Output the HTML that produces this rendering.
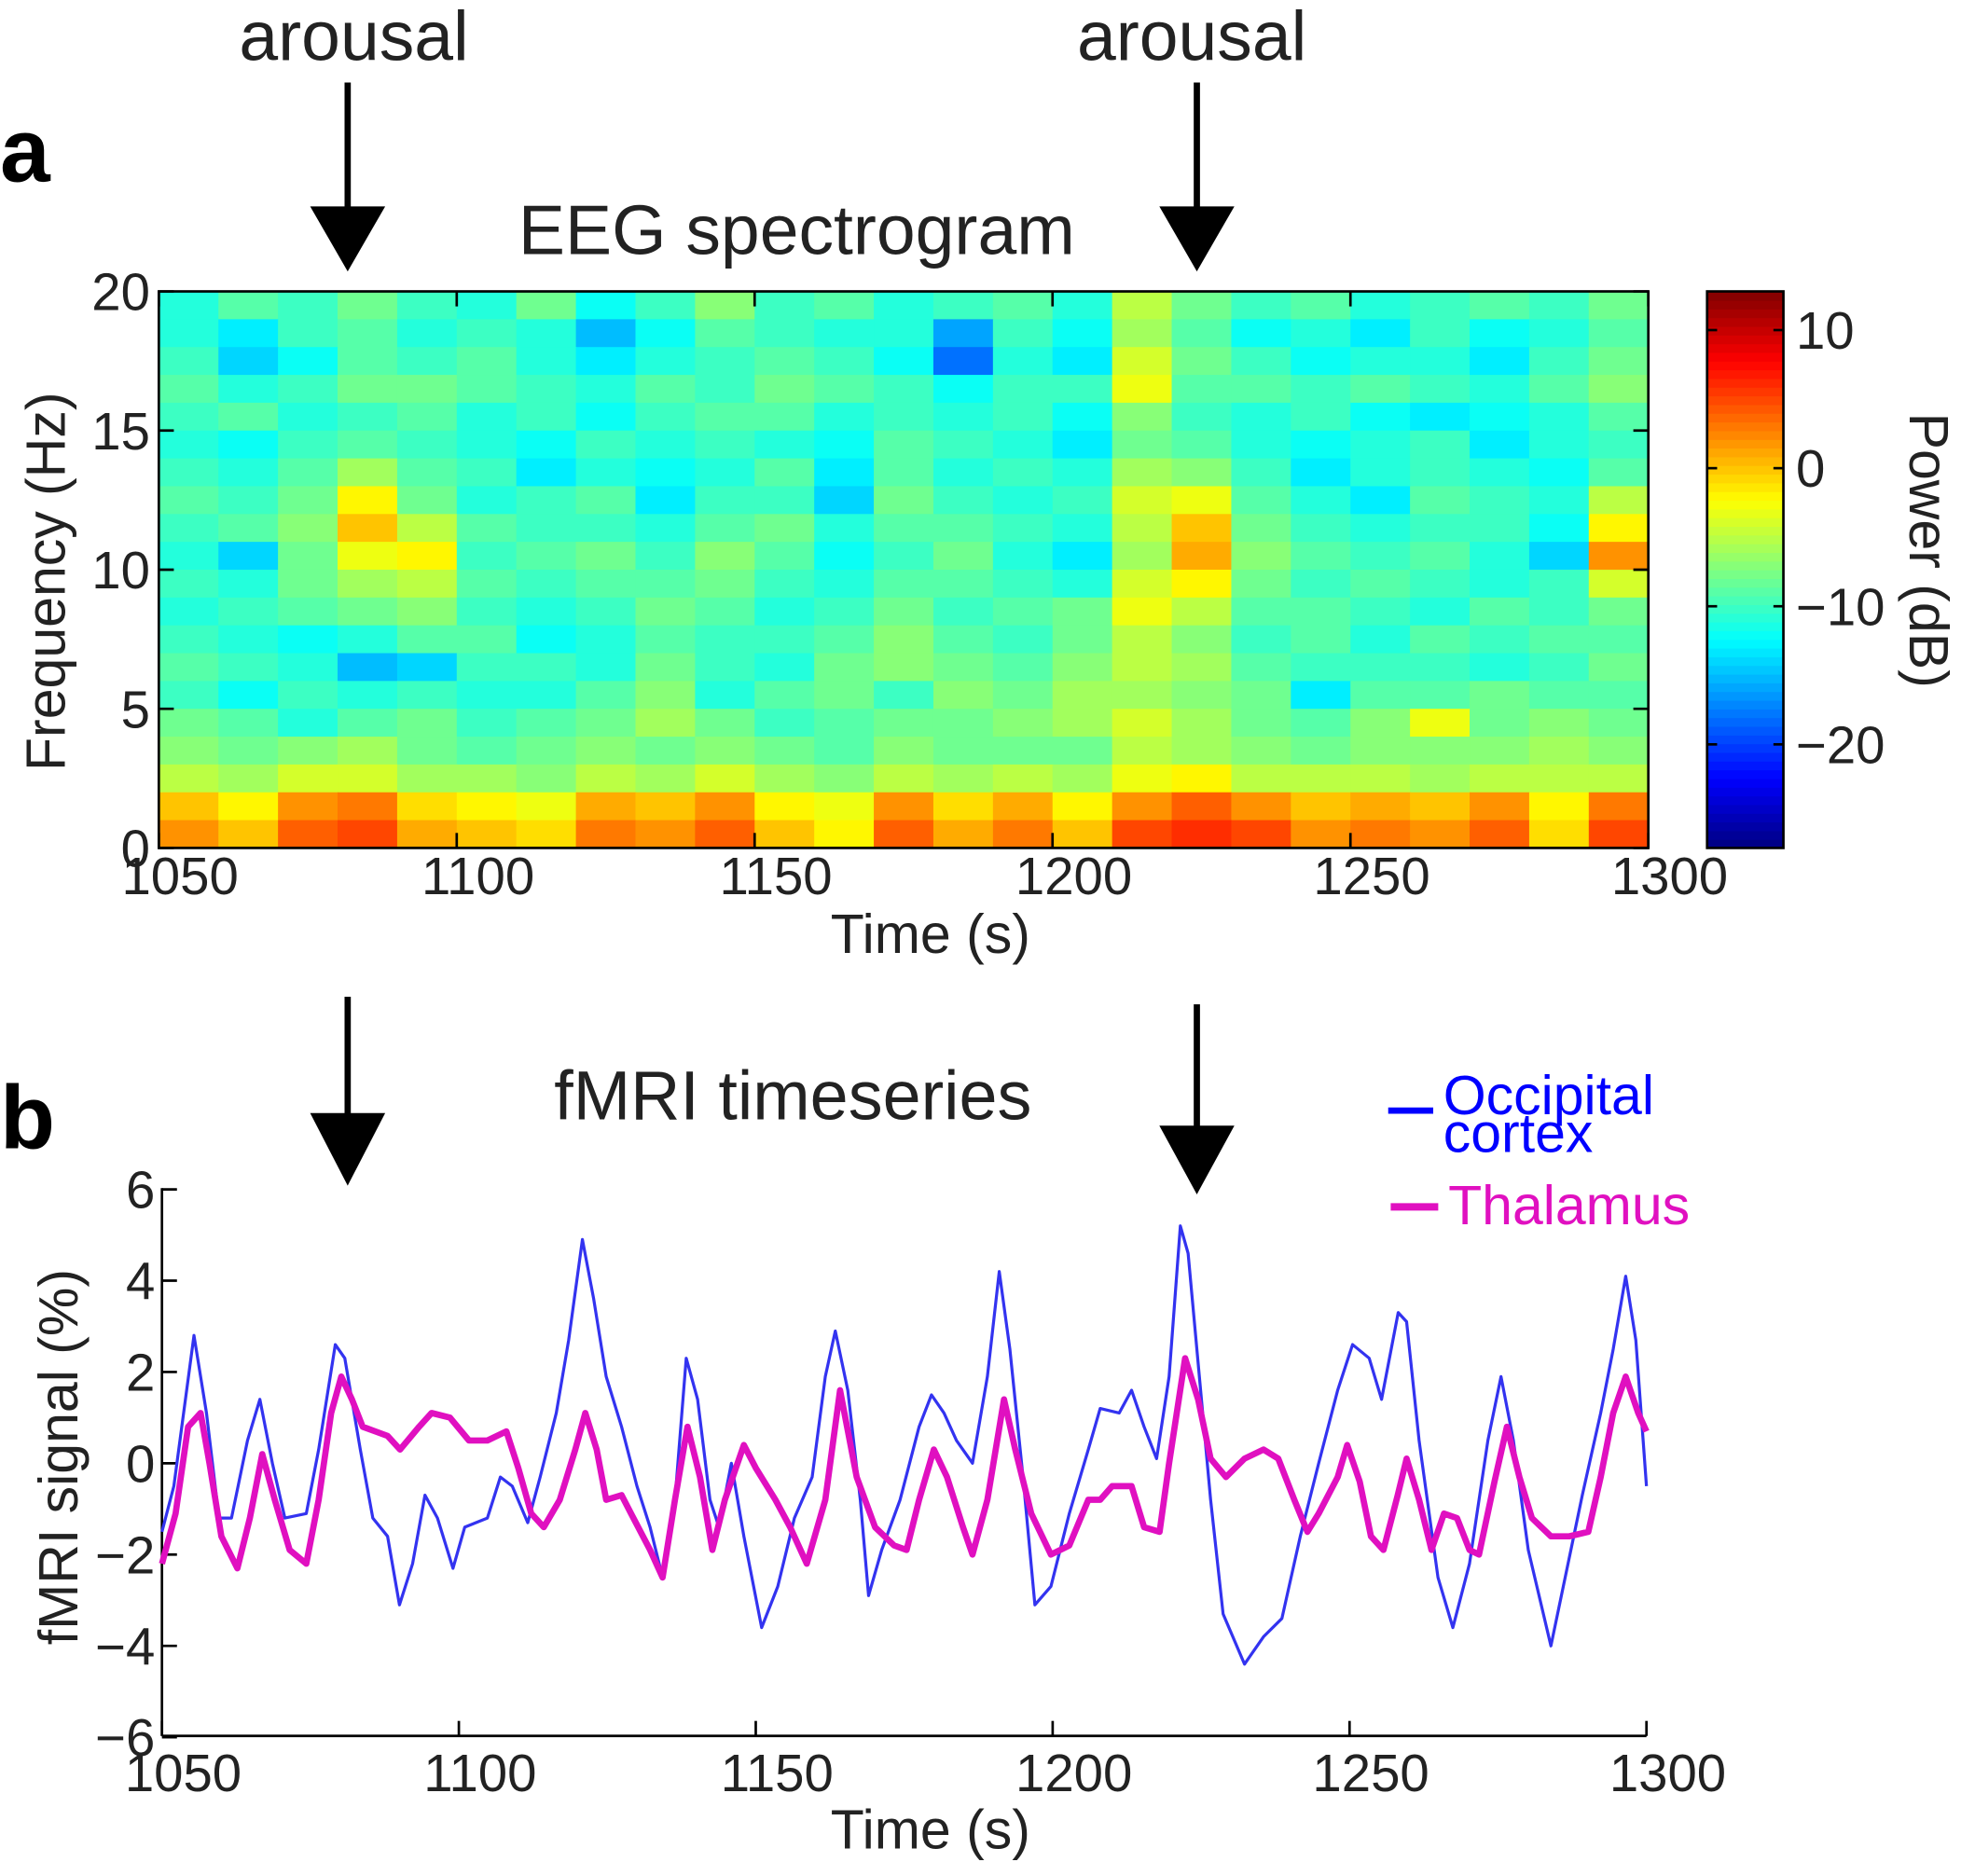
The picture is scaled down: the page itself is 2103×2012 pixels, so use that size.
<!DOCTYPE html>
<html><head><meta charset="utf-8"><style>
html,body{margin:0;padding:0;background:#fff;}
svg{display:block;font-family:"Liberation Sans",Arial,sans-serif;}
</style></head><body>
<svg id="fig" xmlns="http://www.w3.org/2000/svg" width="2103" height="2012" viewBox="0 0 1568 1500" preserveAspectRatio="none">
<g id="panelA"></g>
<g id="panelB"></g>
</svg>
<script>
// ---------- Spectrogram data (dB), rows top (19-20 Hz) to bottom (0-1 Hz), columns 10 s bins from 1050 ----------
const specTimeStart = 1050, specTimeStep = 10, specFreqMax = 20;
const specMidOffset = 1;
const specRows = [
[-12,-10,-11,-9,-11,-12,-9,-13,-11,-8,-11,-10,-12,-11,-10,-12,-6,-9,-11,-10,-12,-11,-10,-11,-9],
[-12,-14,-11,-10,-12,-11,-12,-16,-13,-10,-11,-12,-12,-17,-11,-13,-7,-10,-13,-12,-14,-11,-13,-12,-10],
[-11,-15,-13,-10,-11,-10,-12,-14,-12,-11,-10,-11,-13,-19,-12,-14,-5,-9,-11,-13,-12,-12,-14,-11,-9],
[-10,-12,-11,-9,-9,-10,-11,-12,-10,-11,-9,-10,-11,-13,-11,-11,-4,-10,-10,-11,-10,-11,-12,-10,-8],
[-11,-10,-12,-11,-10,-12,-11,-13,-11,-10,-10,-12,-11,-12,-11,-13,-8,-11,-12,-11,-13,-14,-13,-12,-10],
[-12,-13,-11,-10,-11,-12,-13,-11,-12,-11,-12,-13,-10,-11,-12,-14,-9,-10,-12,-13,-12,-11,-14,-12,-11],
[-11,-12,-10,-7,-10,-11,-14,-12,-13,-12,-10,-14,-10,-12,-11,-12,-7,-8,-11,-14,-12,-11,-12,-13,-10],
[-10,-11,-9,-3,-9,-12,-11,-10,-14,-11,-11,-15,-9,-11,-12,-11,-5,-4,-10,-12,-14,-10,-11,-12,-6],
[-11,-10,-8,-1,-6,-10,-11,-11,-12,-10,-9,-12,-10,-10,-11,-12,-6,-1,-9,-11,-12,-11,-11,-13,-3],
[-12,-15,-9,-4,-3,-11,-10,-9,-11,-8,-10,-13,-11,-9,-12,-14,-7,0,-8,-10,-11,-10,-12,-15,1],
[-11,-12,-9,-7,-6,-10,-11,-10,-10,-9,-11,-12,-10,-10,-11,-12,-5,-3,-9,-11,-10,-11,-12,-11,-5],
[-12,-11,-10,-9,-8,-11,-12,-11,-9,-10,-12,-11,-9,-11,-10,-9,-4,-6,-10,-10,-11,-12,-10,-11,-9],
[-11,-12,-13,-12,-10,-10,-13,-12,-10,-11,-11,-10,-8,-10,-11,-9,-6,-8,-11,-10,-12,-10,-11,-10,-10],
[-10,-11,-12,-16,-15,-11,-11,-12,-9,-11,-12,-9,-8,-9,-10,-8,-6,-7,-10,-11,-11,-11,-12,-11,-9],
[-11,-13,-11,-12,-11,-12,-12,-10,-8,-12,-10,-9,-11,-8,-9,-7,-7,-8,-9,-14,-10,-10,-9,-10,-10],
[-9,-10,-12,-10,-9,-11,-10,-9,-7,-9,-11,-10,-9,-9,-8,-7,-5,-7,-9,-10,-8,-4,-9,-8,-9],
[-7,-8,-7,-6,-8,-9,-8,-7,-8,-7,-8,-9,-7,-8,-8,-8,-5,-6,-7,-8,-7,-7,-7,-6,-7],
[-5,-6,-4,-4,-6,-6,-7,-5,-6,-4,-6,-7,-5,-6,-5,-6,-3,-2,-5,-5,-5,-6,-5,-5,-5],
[0,-2,2,3,-1,-2,-3,1,0,2,-2,-3,2,-1,1,-2,2,4,2,0,1,0,2,-2,3],
[2,0,4,5,1,0,-1,3,2,4,0,-2,4,1,3,0,5,6,5,2,3,2,4,-1,5]
];
const specXTicks = [1050,1100,1150,1200,1250,1300];
const specYTicks = [0,5,10,15,20];
const cbarTicks = [-20,-10,0,10];
const cbarMin = -27.5, cbarMax = 12.8;

// ---------- fMRI data ----------
const occTimes = [1050,1052,1055.4,1057.5,1059.6,1061.7,1064.4,1066.5,1068.6,1070.7,1074.3,1076.4,1079.2,1080.8,1083.4,1085.5,1088,1090,1092.2,1094.3,1096.4,1099,1101,1104.8,1107,1109,1111.6,1113.7,1116.4,1118.5,1120.8,1122.7,1124.8,1127.4,1130,1132.2,1134.3,1136.4,1138.3,1140.2,1142.3,1143.8,1145.9,1148,1151,1153.7,1156.5,1159.5,1161.7,1163.4,1165.5,1167.6,1169,1171.2,1174.3,1177.5,1179.6,1181.7,1183.8,1186.5,1189,1191,1192.8,1195,1197,1199.7,1202.8,1206,1208,1211.2,1213.3,1215.4,1217.5,1219.6,1221.5,1222.8,1224.5,1226.6,1228.7,1232.3,1235.5,1238.6,1241.7,1244.8,1248,1250.5,1253.3,1255.4,1258.2,1259.6,1261.7,1264.9,1267.4,1270.2,1273.3,1275.5,1277.6,1280.1,1283.9,1286,1289.2,1292.3,1294.4,1296.5,1298.2,1300];
const occValues = [-1.5,-0.5,2.8,1.1,-1.2,-1.2,0.5,1.4,0,-1.2,-1.1,0.3,2.6,2.3,0.3,-1.2,-1.6,-3.1,-2.2,-0.7,-1.2,-2.3,-1.4,-1.2,-0.3,-0.5,-1.3,-0.3,1.1,2.7,4.9,3.6,1.9,0.8,-0.5,-1.4,-2.5,-0.8,2.3,1.4,-0.8,-1.4,0,-1.6,-3.6,-2.7,-1.2,-0.3,1.9,2.9,1.6,-0.8,-2.9,-1.9,-0.8,0.8,1.5,1.1,0.5,0,1.9,4.2,2.5,-0.3,-3.1,-2.7,-1.1,0.3,1.2,1.1,1.6,0.8,0.1,1.9,5.2,4.6,2.2,-0.8,-3.3,-4.4,-3.8,-3.4,-1.6,0,1.6,2.6,2.3,1.4,3.3,3.1,0.5,-2.5,-3.6,-2.2,0.5,1.9,0.5,-1.9,-4.0,-2.7,-0.7,1.1,2.5,4.1,2.7,-0.5];
const thalTimes = [1050,1052.3,1054.4,1056.5,1058,1060,1062.7,1064.8,1066.9,1069,1071.5,1074.3,1076.4,1078.5,1080.2,1082,1083.8,1085.9,1088,1090.1,1093.3,1095.4,1098.5,1101.7,1104.8,1108,1110,1112.2,1114.3,1117,1119.6,1121.3,1123.2,1124.8,1127.4,1129,1132.2,1134.3,1136.4,1138.5,1140.6,1142.7,1144.8,1148,1150,1153.3,1155.8,1158.6,1161.7,1164.2,1167,1170.1,1173.3,1175.4,1177.5,1180,1182.2,1184.9,1186.5,1189,1191.8,1193.7,1196.4,1199.7,1202.8,1206,1208,1210,1213.3,1215.4,1218,1219.6,1222.3,1224.5,1226.6,1229.2,1232.3,1235.5,1238,1240.7,1242.9,1244.8,1248,1249.6,1251.7,1253.6,1255.7,1258.1,1259.6,1261.7,1263.8,1265.9,1268.1,1270.2,1271.8,1274.4,1276.5,1278.6,1280.7,1283.9,1287,1290.2,1292.3,1294.4,1296.5,1298.6,1300];
const thalValues = [-2.2,-1.1,0.8,1.1,0,-1.6,-2.3,-1.2,0.2,-0.8,-1.9,-2.2,-0.8,1.1,1.9,1.4,0.8,0.7,0.6,0.3,0.8,1.1,1.0,0.5,0.5,0.7,-0.1,-1.1,-1.4,-0.8,0.3,1.1,0.3,-0.8,-0.7,-1.1,-1.9,-2.5,-0.8,0.8,-0.3,-1.9,-0.8,0.4,-0.1,-0.8,-1.4,-2.2,-0.8,1.6,-0.3,-1.4,-1.8,-1.9,-0.8,0.3,-0.3,-1.4,-2.0,-0.8,1.4,0.3,-1.1,-2.0,-1.8,-0.8,-0.8,-0.5,-0.5,-1.4,-1.5,0,2.3,1.4,0.1,-0.3,0.1,0.3,0.1,-0.8,-1.5,-1.1,-0.3,0.4,-0.4,-1.6,-1.9,-0.7,0.1,-0.8,-1.9,-1.1,-1.2,-1.9,-2.0,-0.4,0.8,-0.3,-1.2,-1.6,-1.6,-1.5,-0.3,1.1,1.9,1.1,0.7];
const fmriXTicks = [1050,1100,1150,1200,1250,1300];
const fmriYTicks = [-6,-4,-2,0,2,4,6];

const NS = "http://www.w3.org/2000/svg";
function mk(tag, attrs, parent, text){
  const e = document.createElementNS(NS, tag);
  for (const k in attrs) e.setAttribute(k, attrs[k]);
  if (text !== undefined) e.textContent = text;
  parent.appendChild(e);
  return e;
}
function jet(v){
  let t = (v - cbarMin)/(cbarMax - cbarMin); t = Math.max(0, Math.min(1, t));
  const f = x => Math.max(0, Math.min(1, x));
  const r = f(1.5 - Math.abs(4*t - 3)), g = f(1.5 - Math.abs(4*t - 2)), b = f(1.5 - Math.abs(4*t - 1));
  return `rgb(${Math.round(r*255)},${Math.round(g*255)},${Math.round(b*255)})`;
}
const fig = document.getElementById('fig');
const A = document.getElementById('panelA');
const B = document.getElementById('panelB');

function arrow(parent, x, y0, y1, y2, name){
  const g = mk('g', {}, parent);
  
  
  mk('line', {x1:x, y1:y0, x2:x, y2:y1+2, stroke:'#000', 'stroke-width':5}, g);
  mk('polygon', {points:`${x-30},${y1} ${x+30},${y1} ${x},${y2}`, fill:'#000'}, g);
}

// ---------- Panel A ----------
const ax = {l:127, r:1318, t:233, b:678};
const sx = t => ax.l + (t - 1050)/(250)*(ax.r - ax.l);
const sy = f => ax.b - f/specFreqMax*(ax.b - ax.t);
let lab = mk('text', {x:0, y:145, 'font-size':72, 'font-weight':'bold'}, A, 'a');
 
[[283,'arousal-label-1'],[953,'arousal-label-2']].forEach(([x,n])=>{
  const e = mk('text', {x:x, y:48, 'font-size':56, 'text-anchor':'middle', fill:'#222'}, A, 'arousal');
   
});
arrow(A, 278, 66, 165, 217, 'arousal-arrow-a1');
arrow(A, 957, 66, 165, 217, 'arousal-arrow-a2');
let tt = mk('text', {x:637, y:203, 'font-size':56, 'text-anchor':'middle', fill:'#222'}, A, 'EEG spectrogram');
 

const heat = mk('g', {}, A);
 
const nRows = specRows.length;
specRows.forEach((row, ri) => {
  row.forEach((v, ci) => {
    const t0 = specTimeStart + ci*specTimeStep, t1 = t0 + specTimeStep;
    const f1 = specFreqMax - ri*(specFreqMax/nRows), f0 = f1 - specFreqMax/nRows;
    const vv = f0 >= 4 ? v + specMidOffset : v;
    const c = mk('rect', {x:sx(t0), y:sy(f1), width:sx(t1)-sx(t0)+0.6, height:sy(f0)-sy(f1)+0.6, fill:jet(vv)}, heat);
    
    
  });
});
let box = mk('rect', {x:ax.l, y:ax.t, width:ax.r-ax.l, height:ax.b-ax.t, fill:'none', stroke:'#000', 'stroke-width':2}, A);
 
specXTicks.forEach(t => {
  mk('line', {x1:sx(t), y1:ax.b, x2:sx(t), y2:ax.b-12, stroke:'#000', 'stroke-width':2}, A);
  mk('line', {x1:sx(t), y1:ax.t, x2:sx(t), y2:ax.t+12, stroke:'#000', 'stroke-width':2}, A);
  const e = mk('text', {x:sx(t)+17, y:715, 'font-size':42, 'text-anchor':'middle', fill:'#222'}, A, String(t));
   
});
specYTicks.forEach(f => {
  mk('line', {x1:ax.l, y1:sy(f), x2:ax.l+12, y2:sy(f), stroke:'#000', 'stroke-width':2}, A);
  mk('line', {x1:ax.r, y1:sy(f), x2:ax.r-12, y2:sy(f), stroke:'#000', 'stroke-width':2}, A);
  const e = mk('text', {x:120, y:sy(f)+15, 'font-size':42, 'text-anchor':'end', fill:'#222'}, A, String(f));
   
});
let xt = mk('text', {x:744, y:762, 'font-size':44, 'text-anchor':'middle', fill:'#222'}, A, 'Time (s)');
 
let yt = mk('text', {x:0, y:0, 'font-size':44, 'text-anchor':'middle', fill:'#222', transform:'translate(52,465) rotate(-90)'}, A, 'Frequency (Hz)');
 

const cb = {l:1365, r:1426, t:233, b:678};
const cy = v => cb.b - (v - cbarMin)/(cbarMax - cbarMin)*(cb.b - cb.t);
const cbg = mk('g', {}, A);
 
for (let i = 0; i < 64; i++){
  const v0 = cbarMin + i*(cbarMax-cbarMin)/64, v1 = cbarMin + (i+1)*(cbarMax-cbarMin)/64;
  mk('rect', {x:cb.l, y:cy(v1), width:cb.r-cb.l, height:cy(v0)-cy(v1)+0.5, fill:jet((v0+v1)/2)}, cbg);
}
mk('rect', {x:cb.l, y:cb.t, width:cb.r-cb.l, height:cb.b-cb.t, fill:'none', stroke:'#000', 'stroke-width':2}, cbg);
cbarTicks.forEach(v => {
  mk('line', {x1:cb.l, y1:cy(v), x2:cb.l+8, y2:cy(v), stroke:'#000', 'stroke-width':2}, cbg);
  mk('line', {x1:cb.r, y1:cy(v), x2:cb.r-8, y2:cy(v), stroke:'#000', 'stroke-width':2}, cbg);
  const e = mk('text', {x:1436, y:cy(v)+15, 'font-size':42, fill:'#222'}, cbg, v<0 ? '\u2212'+Math.abs(v) : String(v));
   
});
let ct = mk('text', {x:0, y:0, 'font-size':44, 'text-anchor':'middle', fill:'#222', transform:'translate(1527,440) rotate(90)'}, A, 'Power (dB)');
 

// ---------- Panel B ----------
const bx = {l:129.5, r:1316.5, t:950, b:1388};
const px = t => bx.l + (t - 1050)/250*(bx.r - bx.l);
const py = v => 1170 - v*(bx.b - bx.t)/12;
lab = mk('text', {x:0, y:918, 'font-size':72, 'font-weight':'bold'}, B, 'b');
 
arrow(B, 278, 797, 890, 948, 'arousal-arrow-b1');
arrow(B, 957, 803, 900, 955, 'arousal-arrow-b2');
tt = mk('text', {x:634, y:895, 'font-size':55, 'text-anchor':'middle', fill:'#222'}, B, 'fMRI timeseries');
 
let yax = mk('line', {x1:bx.l, y1:bx.t, x2:bx.l, y2:bx.b, stroke:'#000', 'stroke-width':2}, B);
 
let xax = mk('line', {x1:bx.l, y1:bx.b, x2:bx.r, y2:bx.b, stroke:'#000', 'stroke-width':2}, B);
 
fmriXTicks.forEach(t => {
  mk('line', {x1:px(t), y1:bx.b, x2:px(t), y2:bx.b-12, stroke:'#000', 'stroke-width':2}, B);
  const e = mk('text', {x:px(t)+17, y:1432, 'font-size':42, 'text-anchor':'middle', fill:'#222'}, B, String(t));
   
});
fmriYTicks.forEach(v => {
  mk('line', {x1:bx.l, y1:py(v), x2:bx.l+12, y2:py(v), stroke:'#000', 'stroke-width':2}, B);
  const e = mk('text', {x:124, y:py(v)+15, 'font-size':42, 'text-anchor':'end', fill:'#222'}, B, v<0 ? '\u2212'+Math.abs(v) : String(v));
   
});
xt = mk('text', {x:744, y:1478, 'font-size':44, 'text-anchor':'middle', fill:'#222'}, B, 'Time (s)');
 
yt = mk('text', {x:0, y:0, 'font-size':44, 'text-anchor':'middle', fill:'#222', transform:'translate(62,1165) rotate(-90)'}, B, 'fMRI signal (%)');
 

function path(times, vals){ return times.map((t,i)=>(i?'L':'M')+px(t).toFixed(1)+','+py(vals[i]).toFixed(1)).join(' '); }
const occ = mk('path', {d:path(occTimes, occValues), fill:'none', stroke:'#3333f0', 'stroke-width':2.4, 'stroke-linejoin':'round'}, B);


const thal = mk('path', {d:path(thalTimes, thalValues), fill:'none', stroke:'#e010c0', 'stroke-width':5, 'stroke-linejoin':'round'}, B);



const lg = mk('g', {}, B);
 
const le1 = mk('g', {}, lg);
 
mk('line', {x1:1110, y1:888, x2:1146, y2:888, stroke:'#0000ff', 'stroke-width':5}, le1);
mk('text', {x:1154, y:891, 'font-size':44, fill:'#0000ff'}, le1, 'Occipital');
mk('text', {x:1154, y:921, 'font-size':44, fill:'#0000ff'}, le1, 'cortex');
const le2 = mk('g', {}, lg);
 
mk('line', {x1:1112, y1:965, x2:1150, y2:965, stroke:'#e010c0', 'stroke-width':6}, le2);
mk('text', {x:1158, y:979, 'font-size':44, fill:'#e010c0'}, le2, 'Thalamus');
</script>
</body></html>
